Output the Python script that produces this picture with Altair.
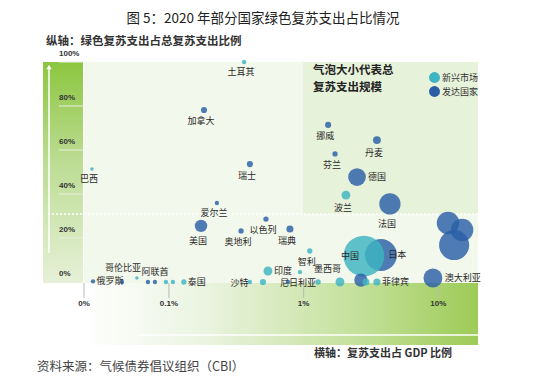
import math
import altair as alt
import pandas as pd

FONT = "Noto Sans CJK SC"

# ---------------- text ----------------
title_text = "图 5：2020 年部分国家绿色复苏支出占比情况"
y_title = "纵轴：绿色复苏支出占总复苏支出比例"
x_title = "横轴：复苏支出占 GDP 比例"
source_text = "资料来源：气候债券倡议组织（CBI）"
bubble_note = "气泡大小代表总\n复苏支出规模"
group_names = ["新兴市场", "发达国家"]
group_colors = ["#3db4c1", "#2a5fa6"]

# ---------------- data ----------------
countries = ["土耳其", "加拿大", "巴西", "瑞士", "挪威", "丹麦", "芬兰", "德国", "波兰", "法国",
             "爱尔兰", "美国", "以色列", "奥地利", "瑞典", "智利", "日本", "中国", "", "",
             "", "澳大利亚", "菲律宾", "", "", "墨西哥", "尼日利亚", "", "", "印度",
             "", "沙特", "泰国", "", "", "阿联酋", "", "哥伦比亚", "", "俄罗斯"]
groups = ["新兴市场", "发达国家", "新兴市场", "发达国家", "发达国家", "发达国家", "发达国家", "发达国家", "新兴市场", "发达国家",
          "发达国家", "发达国家", "发达国家", "发达国家", "发达国家", "新兴市场", "发达国家", "新兴市场", "发达国家", "发达国家",
          "发达国家", "发达国家", "新兴市场", "发达国家", "新兴市场", "新兴市场", "新兴市场", "发达国家", "新兴市场", "新兴市场",
          "新兴市场", "新兴市场", "新兴市场", "新兴市场", "新兴市场", "发达国家", "发达国家", "新兴市场", "发达国家", "发达国家"]
# recovery spending as % of GDP (log axis)
gdp_share = [0.361, 0.182, 0.0268, 0.399, 1.52, 3.50, 1.71, 2.49, 2.06, 4.37,
             0.227, 0.173, 0.525, 0.343, 0.791, 1.11, 3.75, 2.80, 11.8, 15.0,
             13.1, 9.12, 3.50, 2.66, 2.90, 1.86, 1.28, 0.765, 0.939, 0.543,
             0.499, 0.399, 0.129, 0.107, 0.095, 0.0787, 0.0698, 0.0578, 0.0448, 0.0273]
# green share of total recovery spending (%)
green_share = [100, 78.2, 51.4, 53.6, 71.4, 64.5, 58.2, 47.7, 39.5, 35.5,
               35.9, 25.5, 28.6, 23.2, 24.1, 14.1, 12.3, 11.8, 26.8, 23.6,
               16.8, 1.8, 0, 0.9, 0, 0, 0, 0, 4.5, 5.0,
               0, 0, 0, 0, 0, 0, 0, 1.8, 0, 0.3]
# relative total recovery spending (bubble size)
total_spend = [6, 12, 4, 12, 12, 20, 9, 100, 25, 144,
               6, 49, 9, 9, 16, 9, 324, 529, 161, 161,
               289, 114, 16, 56, 16, 25, 9, 6, 6, 25,
               12, 6, 9, 6, 6, 6, 6, 4, 6, 6]
label_place = ["below", "below", "below", "below", "below", "below", "below", "right", "below", "below",
               "below", "below", "below", "below", "below", "below", "inr", "inl", "", "",
               "", "right", "right", "", "", "upleft", "left", "", "", "right",
               "", "left", "right", "", "", "above", "", "upleft", "", "right"]

y_ticks = [0, 20, 40, 60, 80, 100]
y_tick_labels = ["0%", "20%", "40%", "60%", "80%", "100%"]
x_ticks = [0.0234, 0.1, 1, 10]
x_tick_labels = ["0%", "0.1%", "1%", "10%"]

# ---------------- geometry / scales ----------------
W, H = 394, 283
XMIN, XMAX = 0.0234, 19.7
YMIN, YMAX = -28.64, 100
S_MAX = 529
AREA_MAX = math.pi * 23 ** 2
LABEL_SIZE = 9
decade_px = W / math.log10(XMAX / XMIN)
ypx = H / (YMAX - YMIN)

xs = alt.Scale(type="log", domain=[XMIN, XMAX], nice=False)
ys = alt.Scale(domain=[YMIN, YMAX], nice=False, zero=False)


def offsets(place, r, w):
    if place == "below":
        return -3, r + 8
    if place == "above":
        return 0, -(r + 8)
    if place == "right":
        return r + 1 + w / 2, 0
    if place == "left":
        return -(r - 1 + w / 2), 1
    if place == "upleft":
        return -(r + w / 2 - 6), -(r + 8)
    if place == "inl":
        return -0.6 * r, 0
    if place == "inr":
        return 0.9 * r, 0
    return 0, 0


lx, ly = [], []
for name, g, gr, s, p in zip(countries, gdp_share, green_share, total_spend, label_place):
    r = math.sqrt(s / S_MAX * AREA_MAX / math.pi)
    dx, dy = offsets(p, r, len(name) * LABEL_SIZE)
    lx.append(g * 10 ** (dx / decade_px))
    ly.append(gr - dy / ypx)

df = pd.DataFrame({"country": countries, "group": groups, "gdp": gdp_share,
                   "green": green_share, "total": total_spend, "lx": lx, "ly": ly})
lab_df = df[df["country"] != ""]

one = pd.DataFrame({"t": [""]})


def deco_rect(x, x2, y, y2, fill):
    return alt.Chart(one).mark_rect(fill=fill).encode(
        x=alt.value(x), x2=alt.value(x2), y=alt.value(y), y2=alt.value(y2))


def deco_text(text, x, y, size, weight="normal", align="left", color="#333"):
    return alt.Chart(pd.DataFrame({"t": [text]})).mark_text(
        align=align, baseline="middle", fontSize=size, fontWeight=weight,
        font=FONT, color=color, lineBreak="\n", lineHeight=17).encode(
        x=alt.value(x), y=alt.value(y), text="t:N")


left_band = deco_rect(-41, -1, 0, 221, alt.LinearGradient(
    gradient="linear", x1=0, x2=0, y1=0, y2=1,
    stops=[alt.GradientStop(color="#8cc63f", offset=0),
           alt.GradientStop(color="#bcdc93", offset=0.45),
           alt.GradientStop(color="#e6f1d8", offset=1)]))
main_bg = deco_rect(0, W, 0, 221, "#f3f8ec")
box_bg = deco_rect(219, W, 0, 152, "#e7f2da")
bottom_band = deco_rect(0, W, 221, H, alt.LinearGradient(
    gradient="linear", x1=0, x2=1, y1=0, y2=0,
    stops=[alt.GradientStop(color="#ffffff", offset=0),
           alt.GradientStop(color="#ebf4e1", offset=0.3),
           alt.GradientStop(color="#c3e09a", offset=0.7),
           alt.GradientStop(color="#9dcb57", offset=1)]))

dash_line = alt.Chart(one).mark_rule(color="#ffffff", strokeWidth=1.5, strokeDash=[2, 2]).encode(
    x=alt.value(-36), x2=alt.value(W), y=alt.value(152))
v_arrow = alt.Chart(one).mark_rule(color="#ffffff", strokeWidth=1.5).encode(
    x=alt.value(-35), y=alt.value(5), y2=alt.value(191))
v_head = alt.Chart(one).mark_point(shape="triangle-up", filled=True, fill="#ffffff", opacity=1, size=28).encode(
    x=alt.value(-35), y=alt.value(5))
h_arrow = alt.Chart(one).mark_rule(color="#ffffff", strokeWidth=1.5).encode(
    x=alt.value(55), x2=alt.value(W), y=alt.value(273))

ydf = pd.DataFrame({"v": y_ticks, "lab": y_tick_labels})
xdf = pd.DataFrame({"v": x_ticks, "lab": x_tick_labels})

y_grid = alt.Chart(ydf).mark_rule(color="#e8eee0", strokeWidth=1).encode(
    y=alt.Y("v:Q", scale=ys, axis=None), x=alt.value(-25), x2=alt.value(-1))
y_labels = alt.Chart(ydf).mark_text(align="left", baseline="middle", dy=-8, fontSize=8,
                                    fontWeight="bold", font="Liberation Sans", color="#333").encode(
    y=alt.Y("v:Q", scale=ys, axis=None), x=alt.value(-25), text="lab:N")
x_ticks_m = alt.Chart(xdf).mark_rule(color="#b8b8b8", strokeWidth=1).encode(
    x=alt.X("v:Q", scale=xs, axis=None), y=alt.value(221), y2=alt.value(236))
x_labels = alt.Chart(xdf).mark_text(align="center", baseline="middle", fontSize=8,
                                    fontWeight="bold", font="Liberation Sans", color="#333").encode(
    x=alt.X("v:Q", scale=xs, axis=None), y=alt.value(242), text="lab:N")

points = alt.Chart(df).mark_circle(opacity=0.82, stroke=None).encode(
    x=alt.X("gdp:Q", scale=xs, axis=None),
    y=alt.Y("green:Q", scale=ys, axis=None),
    size=alt.Size("total:Q", scale=alt.Scale(domain=[0, S_MAX], range=[0, AREA_MAX]), legend=None),
    color=alt.Color("group:N", scale=alt.Scale(domain=group_names, range=group_colors),
                    legend=alt.Legend(title=None, orient="none", legendX=345, legendY=10,
                                      symbolType="circle", symbolSize=120, symbolOpacity=1,
                                      symbolStrokeWidth=0, labelFont=FONT, labelFontSize=9,
                                      labelColor="#333", rowPadding=3, labelOffset=2,
                                      padding=0)),
)

labels = alt.Chart(lab_df).mark_text(align="center", baseline="middle", fontSize=LABEL_SIZE,
                                     font=FONT, color="#2a2a2a").encode(
    x=alt.X("lx:Q", scale=xs, axis=None),
    y=alt.Y("ly:Q", scale=ys, axis=None),
    text="country:N")

chart = alt.layer(
    main_bg, box_bg, left_band, bottom_band, dash_line, v_arrow, v_head, h_arrow,
    y_grid, y_labels, x_ticks_m, x_labels, points, labels,
    deco_text(title_text, 179, -43, 13.5, align="center", color="#222"),
    deco_text(y_title, -38, -20, 11.5, weight="bold"),
    deco_text(bubble_note, 229, 9, 11.5, weight="bold", color="#222"),
    deco_text(x_title, 230, 292, 11, weight="bold"),
    deco_text(source_text, -47, 305, 12.5, color="#444"),
).properties(
    width=W, height=H,
    autosize=alt.AutoSizeParams(type="none"),
    padding={"left": 76, "top": 54, "right": 64, "bottom": 29},
).configure_view(stroke=None)

chart.save("out.html", embed_options={"renderer": "svg", "actions": False})
